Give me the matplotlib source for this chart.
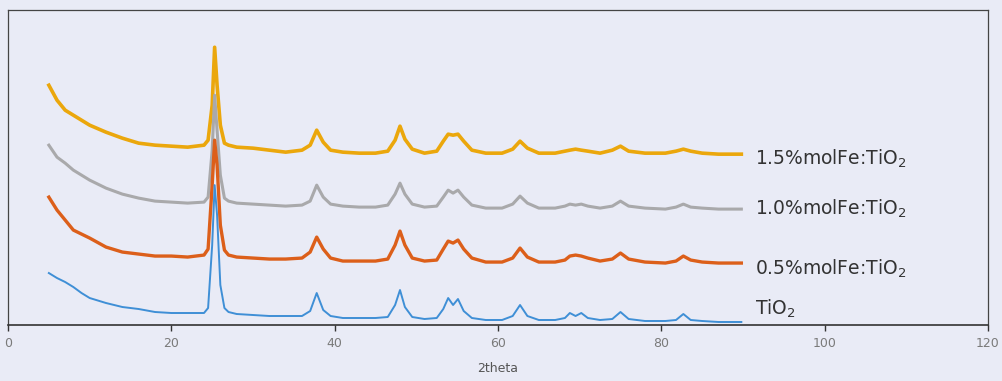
import numpy as np
from matplotlib import pyplot as plt

# 2theta positions (deg)
two_theta = [5, 6, 7, 8, 9, 10, 12, 14, 16, 18, 20, 22, 24, 24.5, 25, 25.3, 25.6, 26, 26.5,
             27, 28, 30, 32, 34, 36, 37, 37.8, 38.6, 39.5, 41, 43, 45, 46.5, 47.4, 48,
             48.6, 49.5, 51, 52.5, 53.3, 53.9, 54.5, 55.1, 55.8, 56.8, 58.5, 60.5, 61.8,
             62.7, 63.6, 65, 67, 68.2, 68.8, 69.5, 70.2, 71, 72.5, 74, 75, 76, 78, 80.5,
             81.8, 82.7, 83.6, 85, 87, 89.8]

# intensities (a.u., already offset like the original stacked plot)
fe15 = [240, 225, 215, 210, 205, 200, 193, 187, 182, 180, 179, 178, 180, 185, 220, 278, 240,
        200, 182, 180, 178, 177, 175, 173, 175, 180, 195, 183, 175, 173, 172, 172, 174, 185,
        199, 186, 176, 172, 174, 184, 191, 190, 191, 184, 175, 172, 172, 176, 184, 177, 172,
        172, 174, 175, 176, 175, 174, 172, 175, 179, 174, 172, 172, 174, 176, 174, 172, 171, 171]
fe10 = [180, 168, 162, 155, 150, 145, 137, 131, 127, 124, 123, 122, 123, 128, 175, 230, 195,
        150, 127, 124, 122, 121, 120, 119, 120, 124, 140, 128, 121, 119, 118, 118, 120, 131,
        142, 131, 121, 118, 119, 128, 135, 132, 135, 128, 120, 117, 117, 121, 129, 122, 117,
        117, 119, 121, 120, 121, 119, 117, 119, 124, 119, 117, 116, 118, 121, 118, 117, 116, 116]
fe05 = [128, 115, 105, 95, 91, 87, 78, 73, 71, 69, 69, 68, 70, 76, 140, 185, 160,
        100, 75, 70, 68, 67, 66, 66, 67, 73, 88, 76, 67, 64, 64, 64, 66, 80,
        94, 80, 67, 64, 65, 76, 84, 82, 85, 76, 67, 63, 63, 67, 77, 68, 63,
        63, 65, 69, 70, 69, 67, 64, 66, 72, 66, 63, 62, 64, 69, 65, 63, 62, 62]
tio2 = [52, 47, 43, 38, 32, 27, 22, 18, 16, 13, 12, 12, 12, 17, 80, 140, 110,
        40, 17, 13, 11, 10, 9, 9, 9, 14, 32, 15, 9, 7, 7, 7, 8, 20,
        35, 18, 8, 6, 7, 16, 27, 20, 26, 14, 7, 5, 5, 9, 20, 9, 5,
        5, 7, 12, 9, 12, 7, 5, 6, 13, 6, 4, 4, 5, 11, 5, 4, 3, 3]

names = ['1.5%molFe:TiO$_2$', '1.0%molFe:TiO$_2$', '0.5%molFe:TiO$_2$', 'TiO$_2$']
colors = ['#eba70c', '#a9a9ab', '#dc5f1a', '#3f8fd6']
widths = [2.6, 2.2, 2.4, 1.4]
label_y = [160, 110, 50, 10]

fig = plt.figure(figsize=(10.03, 3.81), dpi=100)
fig.patch.set_facecolor('#e9ebf6')
ax = fig.add_axes([0.008, 0.147, 0.977, 0.826])
ax.set_facecolor('#e9ebf6')

for ys, c, w in zip([fe15, fe10, fe05, tio2], colors, widths):
    ax.plot(two_theta, ys, color=c, linewidth=w, solid_joinstyle='round')

# series names written at the right end of each trace
for nm, yy in zip(names, label_y):
    ax.text(91.5, yy, nm, fontsize=13.5, color='#333333', va='baseline', ha='left',
            family='DejaVu Sans')

ax.set_xlim(0, 120)
ax.set_ylim(0, 315)
ax.set_xticks(range(0, 121, 20))
ax.set_yticks([])
ax.tick_params(axis='x', direction='out', length=4, width=1, color='#333333',
               labelsize=9, labelcolor='#7a7a7a', pad=5)
for s in ['left', 'top', 'right']:
    ax.spines[s].set_color('#444444')
    ax.spines[s].set_linewidth(0.9)
ax.spines['bottom'].set_color('#333333')
ax.spines['bottom'].set_linewidth(1.2)
ax.set_xlabel('2theta', fontsize=9, color='#555555', labelpad=8)

plt.savefig('out.png', dpi=100, facecolor=fig.get_facecolor())
